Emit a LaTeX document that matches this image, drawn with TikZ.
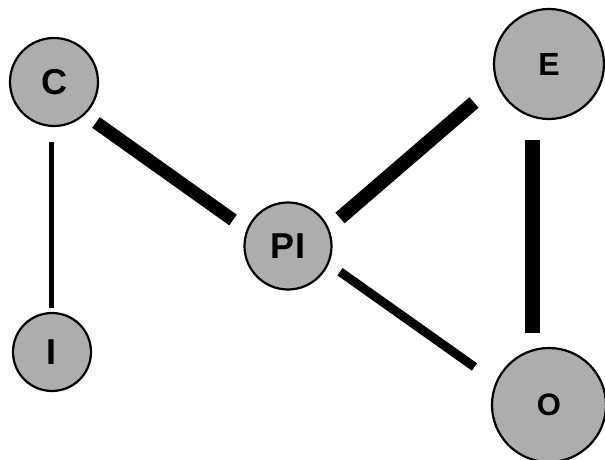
\documentclass[tikz,border=0pt]{standalone}
\usepackage{fontspec}
\setmainfont{Liberation Sans}
\usetikzlibrary{calc}
\begin{document}
\begin{tikzpicture}[x=1pt,y=1pt,
  bub/.style={circle,draw=black,line width=2.2pt,fill=black!32,inner sep=0pt,text=black,font=\bfseries\fontsize{36}{36}\selectfont},
  ln/.style={draw=black,line width=#1}]
\useasboundingbox (0,0) rectangle (605,460);
\clip (0,0) rectangle (605,460);
\node[bub,minimum size=88pt] (C) at (54,378) {C};
\node[bub,minimum size=78pt] (I) at (52,108) {I};
\node[bub,minimum size=87pt] (PI) at (288,214) {PI};
\node[bub,minimum size=110pt,font=\bfseries\fontsize{32}{32}\selectfont] (E) at (549,396) {E};
\node[bub,minimum size=114pt,font=\bfseries\fontsize{31}{31}\selectfont] (O) at (549,55) {O};
\draw[ln=5pt] ($(C)+(-3,-60)$) -- ($(I)+(-1,44)$);
\draw[ln=13pt] ($(C)+(42,-40.5)$) -- ($(PI)+(-55,26)$);
\draw[ln=14pt] ($(PI)+(52,28)$) -- ($(E)+(-75,-38.5)$);
\draw[ln=9pt] ($(PI)+(52,-25.7)$) -- ($(O)+(-74.5,38)$);
\draw[ln=15pt] ($(E)+(-17,-76)$) -- ($(O)+(-17,72)$);
\end{tikzpicture}
\end{document}
